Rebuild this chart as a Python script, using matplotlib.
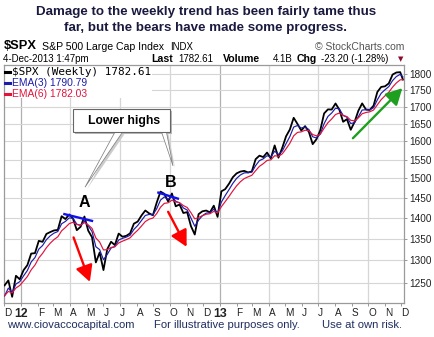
import pandas as pd
import matplotlib
matplotlib.use("Agg")
import matplotlib.pyplot as plt
import matplotlib.dates as mdates
from matplotlib.patches import Rectangle, Polygon
from matplotlib.ticker import NullLocator
from matplotlib.transforms import ScaledTranslation

plt.rcParams['font.family'] = ['Liberation Sans', 'DejaVu Sans']

W, H = 435, 337

# weekly $SPX closes, Dec 2 2011 .. Dec 4 2013 (last bar is the partial week)
weeks = list(pd.date_range("2011-12-02", "2013-11-29", freq="7D")) + [pd.Timestamp("2013-12-04")]
close = [1244.28, 1255.19, 1219.66, 1265.33, 1257.60,
         1277.81, 1289.09, 1315.38, 1316.33, 1344.90, 1342.64, 1361.23, 1365.74, 1369.63, 1370.87, 1404.17, 1397.11, 1408.47,
         1398.08, 1370.26, 1378.53, 1403.36, 1369.10, 1353.39, 1295.22, 1317.82, 1278.04, 1325.66, 1342.84, 1335.02, 1362.16,
         1354.68, 1356.78, 1362.66, 1385.97, 1390.99, 1405.87, 1418.16, 1411.13, 1406.58, 1437.92, 1465.77, 1460.15, 1440.67,
         1460.93, 1428.59, 1433.19, 1411.94, 1414.20, 1379.85, 1359.88, 1409.15, 1416.18, 1418.07, 1413.58, 1430.15, 1402.43,
         1466.47, 1472.05, 1485.98, 1502.96, 1513.17, 1517.93, 1519.79, 1515.60, 1518.20, 1551.18, 1560.70, 1556.89, 1569.19,
         1553.28, 1588.85, 1555.25, 1582.24, 1614.42, 1633.70, 1667.47, 1649.60, 1630.74, 1643.38, 1626.73, 1592.43, 1606.28,
         1631.89, 1680.19, 1692.09, 1691.65, 1709.67, 1691.42, 1655.83, 1663.50, 1632.97, 1655.17, 1687.99, 1709.91, 1691.75,
         1690.50, 1703.20, 1744.50, 1759.77, 1761.64, 1770.61, 1798.18, 1804.76, 1805.81, 1782.61]
ema3 = [1221.6, 1238.4, 1229.0, 1247.2, 1252.4,
        1265.1, 1277.1, 1296.2, 1306.3, 1325.6, 1334.1, 1347.7, 1356.7, 1363.2, 1367.0, 1385.6, 1391.4, 1399.9,
        1399.0, 1384.6, 1381.6, 1392.5, 1380.8, 1367.1, 1331.2, 1324.5, 1301.3, 1313.5, 1328.2, 1331.6, 1346.9,
        1350.8, 1353.8, 1358.2, 1372.1, 1381.5, 1393.7, 1405.9, 1408.5, 1407.5, 1422.7, 1444.2, 1452.2, 1446.4,
        1453.7, 1441.1, 1437.1, 1424.5, 1419.4, 1399.6, 1379.7, 1394.4, 1405.3, 1411.7, 1412.6, 1421.4, 1411.9,
        1439.2, 1455.6, 1470.8, 1486.9, 1500.0, 1509.0, 1514.4, 1515.0, 1516.6, 1533.9, 1547.3, 1552.1, 1560.6,
        1556.9, 1572.9, 1564.1, 1573.2, 1593.8, 1613.8, 1640.6, 1645.1, 1637.9, 1640.6, 1633.7, 1613.1, 1609.7,
        1620.8, 1650.5, 1671.3, 1681.5, 1695.6, 1693.5, 1674.7, 1669.1, 1651.0, 1653.1, 1670.5, 1690.2, 1691.0,
        1690.8, 1697.0, 1720.8, 1740.3, 1751.0, 1760.8, 1779.5, 1792.1, 1799.0, 1790.8]
ema6 = [1221.8, 1231.3, 1228.0, 1238.7, 1244.1,
        1253.7, 1263.8, 1278.5, 1289.3, 1305.2, 1315.9, 1328.9, 1339.4, 1348.0, 1354.5, 1368.7, 1376.8, 1385.9,
        1389.4, 1383.9, 1382.4, 1388.4, 1382.9, 1374.5, 1351.8, 1342.1, 1323.8, 1324.3, 1329.6, 1331.2, 1340.0,
        1344.2, 1347.8, 1352.1, 1361.7, 1370.1, 1380.3, 1391.1, 1396.8, 1399.6, 1410.6, 1426.4, 1436.0, 1437.3,
        1444.1, 1439.7, 1437.8, 1430.4, 1425.8, 1412.7, 1397.6, 1400.9, 1405.3, 1408.9, 1410.2, 1415.9, 1412.1,
        1427.6, 1440.3, 1453.4, 1467.5, 1480.6, 1491.3, 1499.4, 1504.0, 1508.1, 1520.4, 1531.9, 1539.0, 1547.7,
        1549.3, 1560.6, 1559.0, 1565.7, 1579.6, 1595.0, 1615.7, 1625.4, 1627.0, 1631.6, 1630.2, 1619.4, 1615.7,
        1620.3, 1637.4, 1653.1, 1664.1, 1677.1, 1681.2, 1674.0, 1671.0, 1660.1, 1658.7, 1667.1, 1679.3, 1682.9,
        1685.0, 1690.2, 1705.8, 1721.2, 1732.7, 1743.6, 1759.2, 1772.2, 1781.8, 1782.0]

months = pd.date_range("2011-12-01", "2013-12-01", freq="MS")
month_labels = ["D", "12", "F", "M", "A", "M", "J", "J", "A", "S", "O", "N", "D",
                "13", "F", "M", "A", "M", "J", "J", "A", "S", "O", "N", "D"]
yticks = [1250, 1300, 1350, 1400, 1450, 1500, 1550, 1600, 1650, 1700, 1750, 1800]

# annotations (date, price)
blue_lines = [(("2012-03-19", 1410), ("2012-05-13", 1392)),
              (("2012-09-08", 1464), ("2012-10-18", 1447))]
red_arrows = [(("2012-04-07", 1353), ("2012-05-07", 1252)),
              (("2012-09-28", 1415), ("2012-11-01", 1331))]
green_arrow = (("2013-09-03", 1609), ("2013-12-03", 1756))
letters = [("A", "2012-04-26", 1438), ("B", "2012-10-02", 1490)]
box = ("2012-04-06", "2012-10-01", 1626, 1692)
pointers = [("2012-06-22", "2012-07-06", "2012-04-28", 1477),
            ("2012-09-16", "2012-09-25", "2012-10-07", 1533)]

navy = "#1a1a40"

fig = plt.figure(figsize=(W / 100, H / 100), dpi=100)
ax = fig.add_axes([4 / W, 1 - 303 / H, 400 / W, 238 / H])


def T(s):
    return mdates.date2num(pd.Timestamp(s))


ax.set_yscale("log")
ax.set_xlim(T("2011-12-01"), T("2013-12-06"))
ax.set_ylim(1206.6, 1828.5)

# grid
ax.set_axisbelow(True)
ax.set_yticks(yticks)
ax.set_yticklabels([str(v) for v in yticks])
ax.yaxis.set_minor_locator(NullLocator())
ax.yaxis.grid(True, color="#d6d6d6", lw=0.8)
for m in months:
    if m.month in (1, 4, 7, 10):
        ax.axvline(T(m), color="#b0b0b0" if m.month == 1 else "#d6d6d6", lw=0.9, zorder=0.5)

# legend background
ax.add_patch(Rectangle((0, 1 - 33 / 238), 148 / 400, 33 / 238, transform=ax.transAxes,
                       facecolor="white", edgecolor="none", zorder=1))

wx = [T(d) for d in weeks]
ax.plot(wx, close, color="black", lw=1.3, zorder=3)
ax.plot(wx, ema3, color="#1c1ca8", lw=0.85, zorder=4)
ax.plot(wx, ema6, color="#e0143c", lw=0.85, zorder=5)

# axis styling
ax.yaxis.tick_right()
ax.tick_params(axis="y", which="major", length=2.5, width=0.6, color="#888888", pad=1.5,
               labelsize=7.2, labelcolor="#222222")
ax.set_xticks([T(m) for m in months])
ax.set_xticklabels(month_labels)
ax.tick_params(axis="x", which="major", length=2.5, width=0.6, color="#888888", pad=1.2,
               labelsize=7.2, labelcolor="#222222")
for lbl in ax.get_xticklabels():
    if lbl.get_text().isdigit():
        lbl.set_fontweight("bold")
        lbl.set_fontsize(8.8)
        lbl.set_ha("center")
    else:
        lbl.set_ha("left")
for sp in ax.spines.values():
    sp.set_color("#9a9a9a")
    sp.set_linewidth(0.9)

# lower highs lines
for (d0, p0), (d1, p1) in blue_lines:
    ax.plot([T(d0), T(d1)], [p0, p1], color="#1010ee", lw=1.7, zorder=6, solid_capstyle="butt")

arrow_style = "-|>,head_length=0.85,head_width=0.45"
for (d0, p0), (d1, p1) in red_arrows:
    ax.annotate("", xy=(T(d1), p1), xytext=(T(d0), p0),
                arrowprops=dict(arrowstyle=arrow_style, color="#ff0000", lw=1.7,
                                mutation_scale=11.5, shrinkA=0, shrinkB=0), zorder=7)
(gd0, gp0), (gd1, gp1) = green_arrow
ax.annotate("", xy=(T(gd1), gp1), xytext=(T(gd0), gp0),
            arrowprops=dict(arrowstyle=arrow_style, color="#1f9f1f", lw=1.7,
                            mutation_scale=11.5, shrinkA=0, shrinkB=0), zorder=7)

for s, d, p in letters:
    ax.text(T(d), p, s, fontsize=11.5, fontweight="bold", ha="center", va="center", zorder=8)

# callout "Lower highs"
shadow = ax.transData + ScaledTranslation(2 / 100, -2 / 100, fig.dpi_scale_trans)
bx0, bx1, by0, by1 = T(box[0]), T(box[1]), box[2], box[3]
box_pts = [(bx0, by0), (bx1, by0), (bx1, by1), (bx0, by1)]
for b0, b1, td, tp in pointers:
    pts = [(T(b0), by0), (T(td), tp), (T(b1), by0)]
    ax.add_patch(Polygon(pts, closed=True, facecolor="#cccccc", edgecolor="none",
                         transform=shadow, zorder=8))
ax.add_patch(Polygon(box_pts, closed=True, facecolor="#b8b8b8", edgecolor="none",
                     transform=shadow, zorder=8))
for b0, b1, td, tp in pointers:
    pts = [(T(b0), by0), (T(td), tp), (T(b1), by0)]
    ax.add_patch(Polygon(pts, closed=True, facecolor="white", edgecolor="#808080", lw=0.55, zorder=9))
ax.add_patch(Polygon(box_pts, closed=True, facecolor="white", edgecolor="#666666", lw=0.8, zorder=9))
ax.text(T("2012-05-04"), (by0 * by1) ** 0.5, "Lower highs", fontsize=8.8, fontweight="bold",
        ha="left", va="center", zorder=10)

# in-chart legend
legend = [("$SPX (Weekly) 1782.61", "black", 71.7, ["DejaVu Sans Mono"], 7.9),
          ("EMA(3) 1790.79", "#1c1ca8", 83.3, ["Liberation Sans"], 7.4),
          ("EMA(6) 1782.03", "#e0143c", 94.3, ["Liberation Sans"], 7.4)]
for txt, col, y, fam, fs in legend:
    fig.add_artist(plt.Line2D([5 / W, 10 / W], [1 - y / H, 1 - y / H], color=col, lw=2.2))
    fig.text(12 / W, 1 - y / H, txt, color=col, fontsize=fs, family=fam, va="center", ha="left")


def ftext(x, y, s, **kw):
    kw.setdefault("va", "center")
    fig.text(x / W, 1 - y / H, s, **kw)


# title
ftext(206, 12.5, "Damage to the weekly trend has been fairly tame thus", fontsize=9.6,
      fontweight="bold", color=navy, ha="center")
ftext(206, 27.5, "far, but the bears have made some progress.", fontsize=9.6,
      fontweight="bold", color=navy, ha="center")

# header
ftext(4, 46, "$SPX", fontsize=9.3, fontweight="bold", color="black")
ftext(42, 46.5, "S&P 500 Large Cap Index", fontsize=7.6, color="black")
ftext(170, 46.5, "INDX", fontsize=6.9, color="black")
ftext(404, 46.5, "\u00a9 StockCharts.com", fontsize=7.5, color="#555555", ha="right")
ftext(3, 59.5, "4-Dec-2013 1:47pm", fontsize=7, color="black")
ftext(151, 59.5, "Last", fontsize=7.6, fontweight="bold", color="black")
ftext(178, 59.5, "1782.61", fontsize=7, color="black")
ftext(223, 59.5, "Volume", fontsize=7.6, fontweight="bold", color="black")
ftext(273, 59.5, "4.1B", fontsize=7, color="black")
ftext(297, 59.5, "Chg", fontsize=7.6, fontweight="bold", color="black")
ftext(321, 59.5, "-23.20 (-1.28%)", fontsize=7, color="black")
ftext(403, 59.5, "\u25bc", fontsize=5, color="#8b0a2a", ha="right", family=["DejaVu Sans"])

# footer
ftext(7, 324.5, "www.ciovaccocapital.com", fontsize=8.1, color="#1f2f5f")
ftext(154, 324.5, "For illustrative purposes only.", fontsize=8.1, color="#1f2f5f")
ftext(402, 324.5, "Use at own risk.", fontsize=8.1, color="#1f2f5f", ha="right")

fig.savefig("out.png", dpi=100, facecolor="white")
